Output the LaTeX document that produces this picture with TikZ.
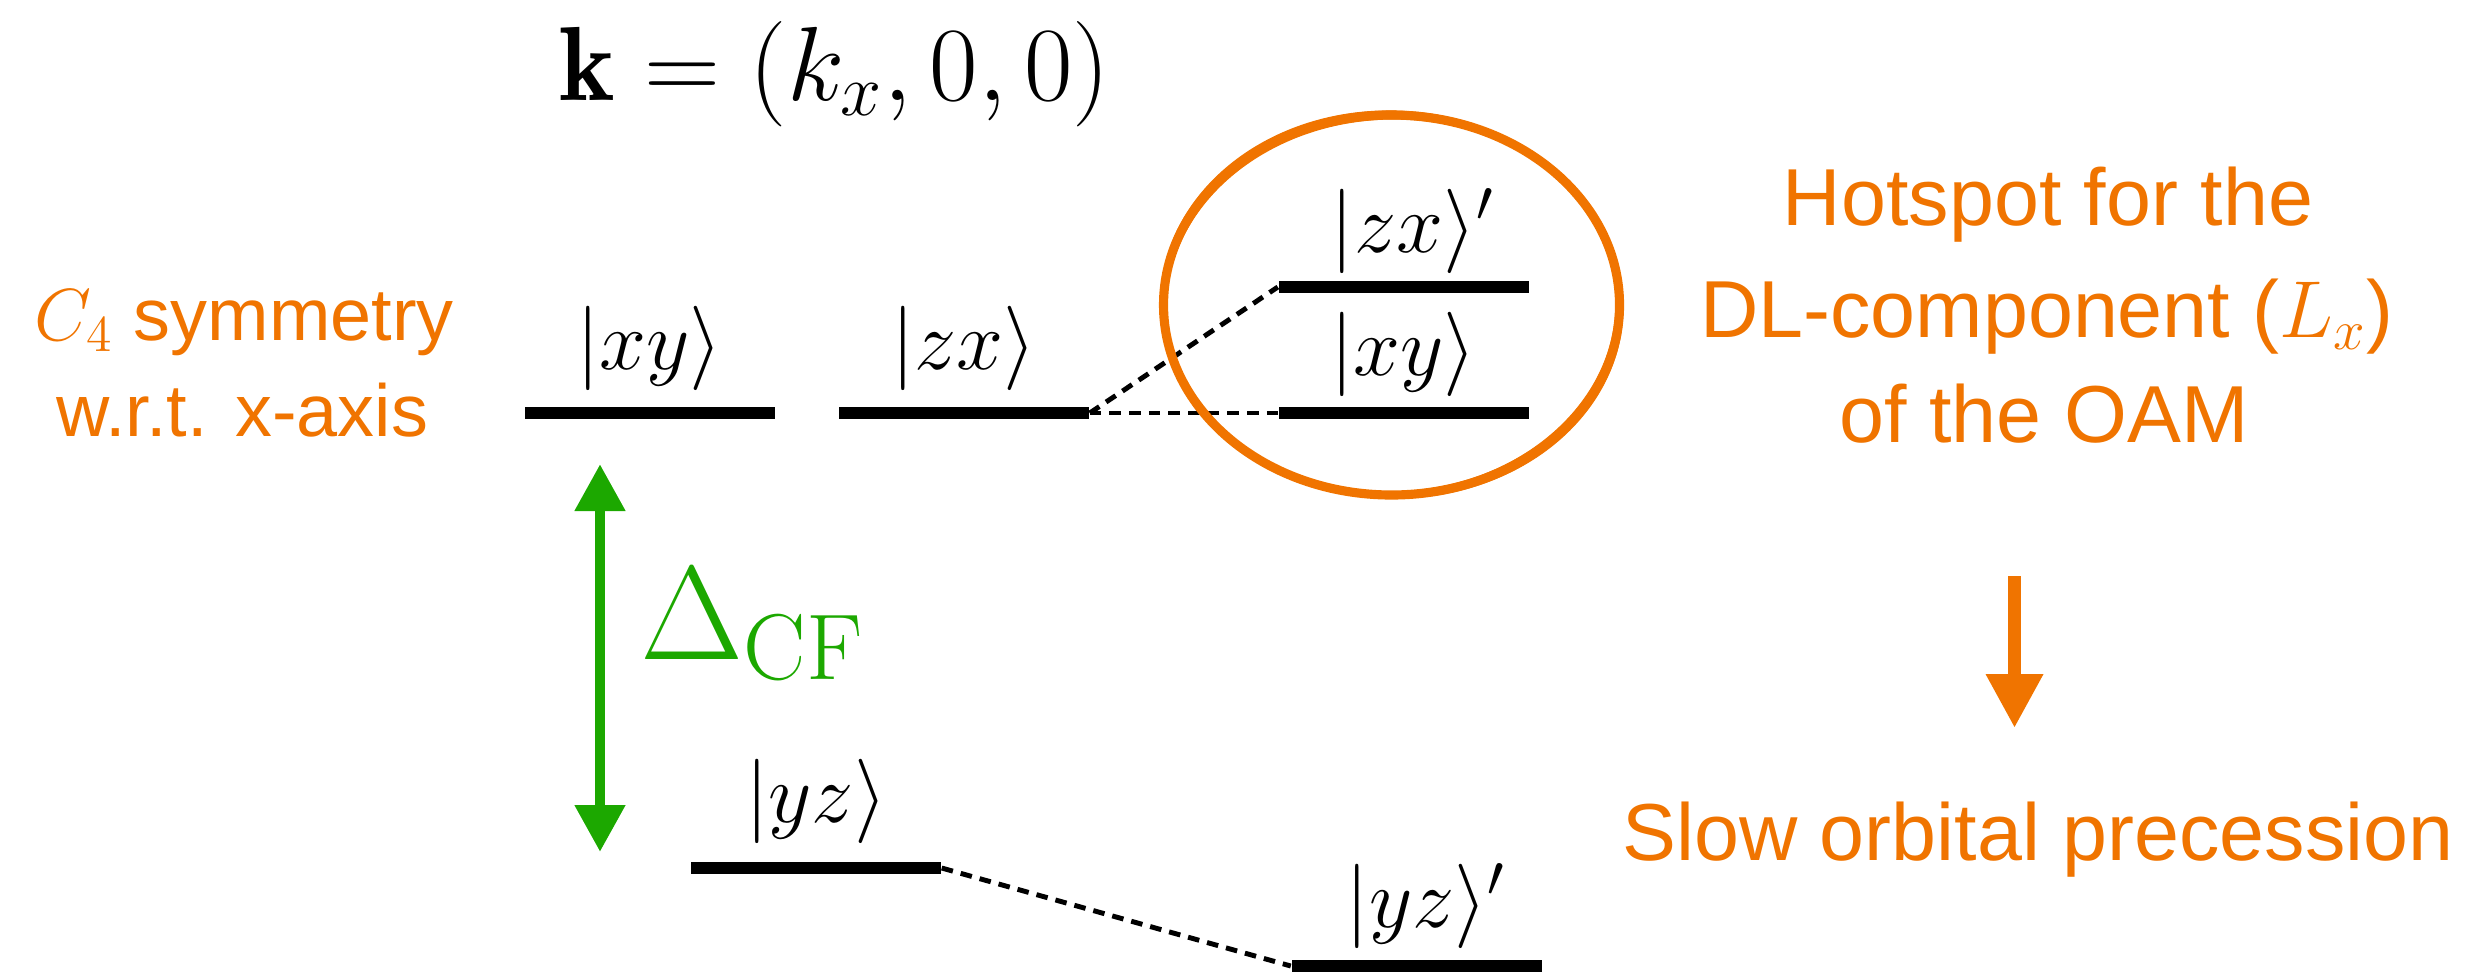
\RequirePackage{fix-cm}
\documentclass[tikz,border=0pt]{standalone}
\usepackage{fontspec}
\newfontfamily\hv{Liberation Sans}
\usetikzlibrary{arrows.meta,shapes.geometric}
\definecolor{myorange}{RGB}{240,116,0}
\definecolor{mygreen}{RGB}{28,168,0}
\begin{document}
\begin{tikzpicture}[x=1cm,y=1cm,
  level/.style={fill=black, inner sep=0pt, minimum width=2.5cm, minimum height=0.12cm},
  ket/.style={inner sep=0pt, anchor=base, font=\fontsize{24}{28}\selectfont},
  otext/.style={inner sep=0pt, anchor=base, text=myorange, font=\fontsize{23}{28}\selectfont\hv},
  ltext/.style={inner sep=0pt, anchor=base, text=myorange, font=\fontsize{21}{25}\selectfont\hv},
  conn/.style={line width=1.4pt, dash pattern=on 3.3pt off 2.3pt},
]
\useasboundingbox (0,0) rectangle (24.69,-9.78);

% energy levels
\node[level] (L1) at (6.495,-4.13) {};
\node[level] (L2) at (9.64,-4.13) {};
\node[level] (L3) at (14.035,-2.87) {};
\node[level] (L4) at (14.035,-4.13) {};
\node[level] (L5) at (8.16,-8.68) {};
\node[level] (L6) at (14.165,-9.66) {};

% kets
\node[ket] (k1) at (6.495,-3.69) {$\vert xy\rangle$};
\node[ket] (k2) at (9.64,-3.69) {$\vert zx\rangle$};
\node[ket] (k3) at (14.035,-2.52) {$\vert zx\rangle\rlap{$^{\prime}$}$};
\node[ket] (k4) at (14.035,-3.75) {$\vert xy\rangle$};
\node[ket] (k5) at (8.16,-8.22) {$\vert yz\rangle$};
\node[ket] (k6) at (14.165,-9.27) {$\vert yz\rangle\rlap{$^{\prime}$}$};

% equation
\node[inner sep=0pt, anchor=base, font=\fontsize{30}{36}\selectfont] (eq) at (8.35,-1.00) {$\mathbf{k}=(k_x,0,0)$};

% connectors
\draw[conn] (L2.east) -- (L3.west);
\draw[conn] (L2.east) -- (L4.west);
\draw[conn] (L5.east) -- (L6.west);

% crystal field splitting
\coordinate (gt) at (6.00,-4.64);
\coordinate (gb) at (6.00,-8.52);
\draw[mygreen, line width=3.1pt, {Triangle[width=0.48cm,length=0.47cm]}-{Triangle[width=0.48cm,length=0.47cm]}] (gt) -- (gb);
\node[inner sep=0pt, anchor=base west, text=mygreen, font=\fontsize{38}{44}\selectfont] (dcf) at (6.40,-6.59) {$\Delta_{\mathrm{CF}}$};

% hotspot ellipse (hand-drawn look)
\node[draw=myorange, line width=2.6pt, ellipse, inner sep=0pt, minimum width=4.56cm, minimum height=3.80cm] (hot) at (13.915,-3.05) {};
\draw[myorange, line width=0.6pt, rotate around={-2:(13.92,-3.045)}] (13.92,-3.045) ellipse [x radius=2.305, y radius=1.93];
\draw[myorange, line width=0.6pt, rotate around={2:(13.91,-3.055)}] (13.91,-3.055) ellipse [x radius=2.255, y radius=1.87];

% left text
\node[ltext] (c4a) at (2.44,-3.40) {$C_4$ symmetry};
\node[ltext] (c4b) at (2.42,-4.36) {w.r.t. x-axis};

% right text
\node[otext] (h1) at (20.48,-2.25) {Hotspot for the};
\node[otext] (h2) at (20.47,-3.37) {DL-component ($L_x$)};
\node[otext] (h3) at (20.44,-4.42) {of the OAM};
\node[otext] (slow) at (20.38,-8.60) {Slow orbital precession};

\coordinate (oa) at (20.145,-5.76);
\coordinate (ob) at (20.145,-7.28);
\draw[myorange, line width=3.7pt, -{Triangle[width=0.54cm,length=0.54cm]}] (oa) -- (ob);
\end{tikzpicture}
\end{document}
